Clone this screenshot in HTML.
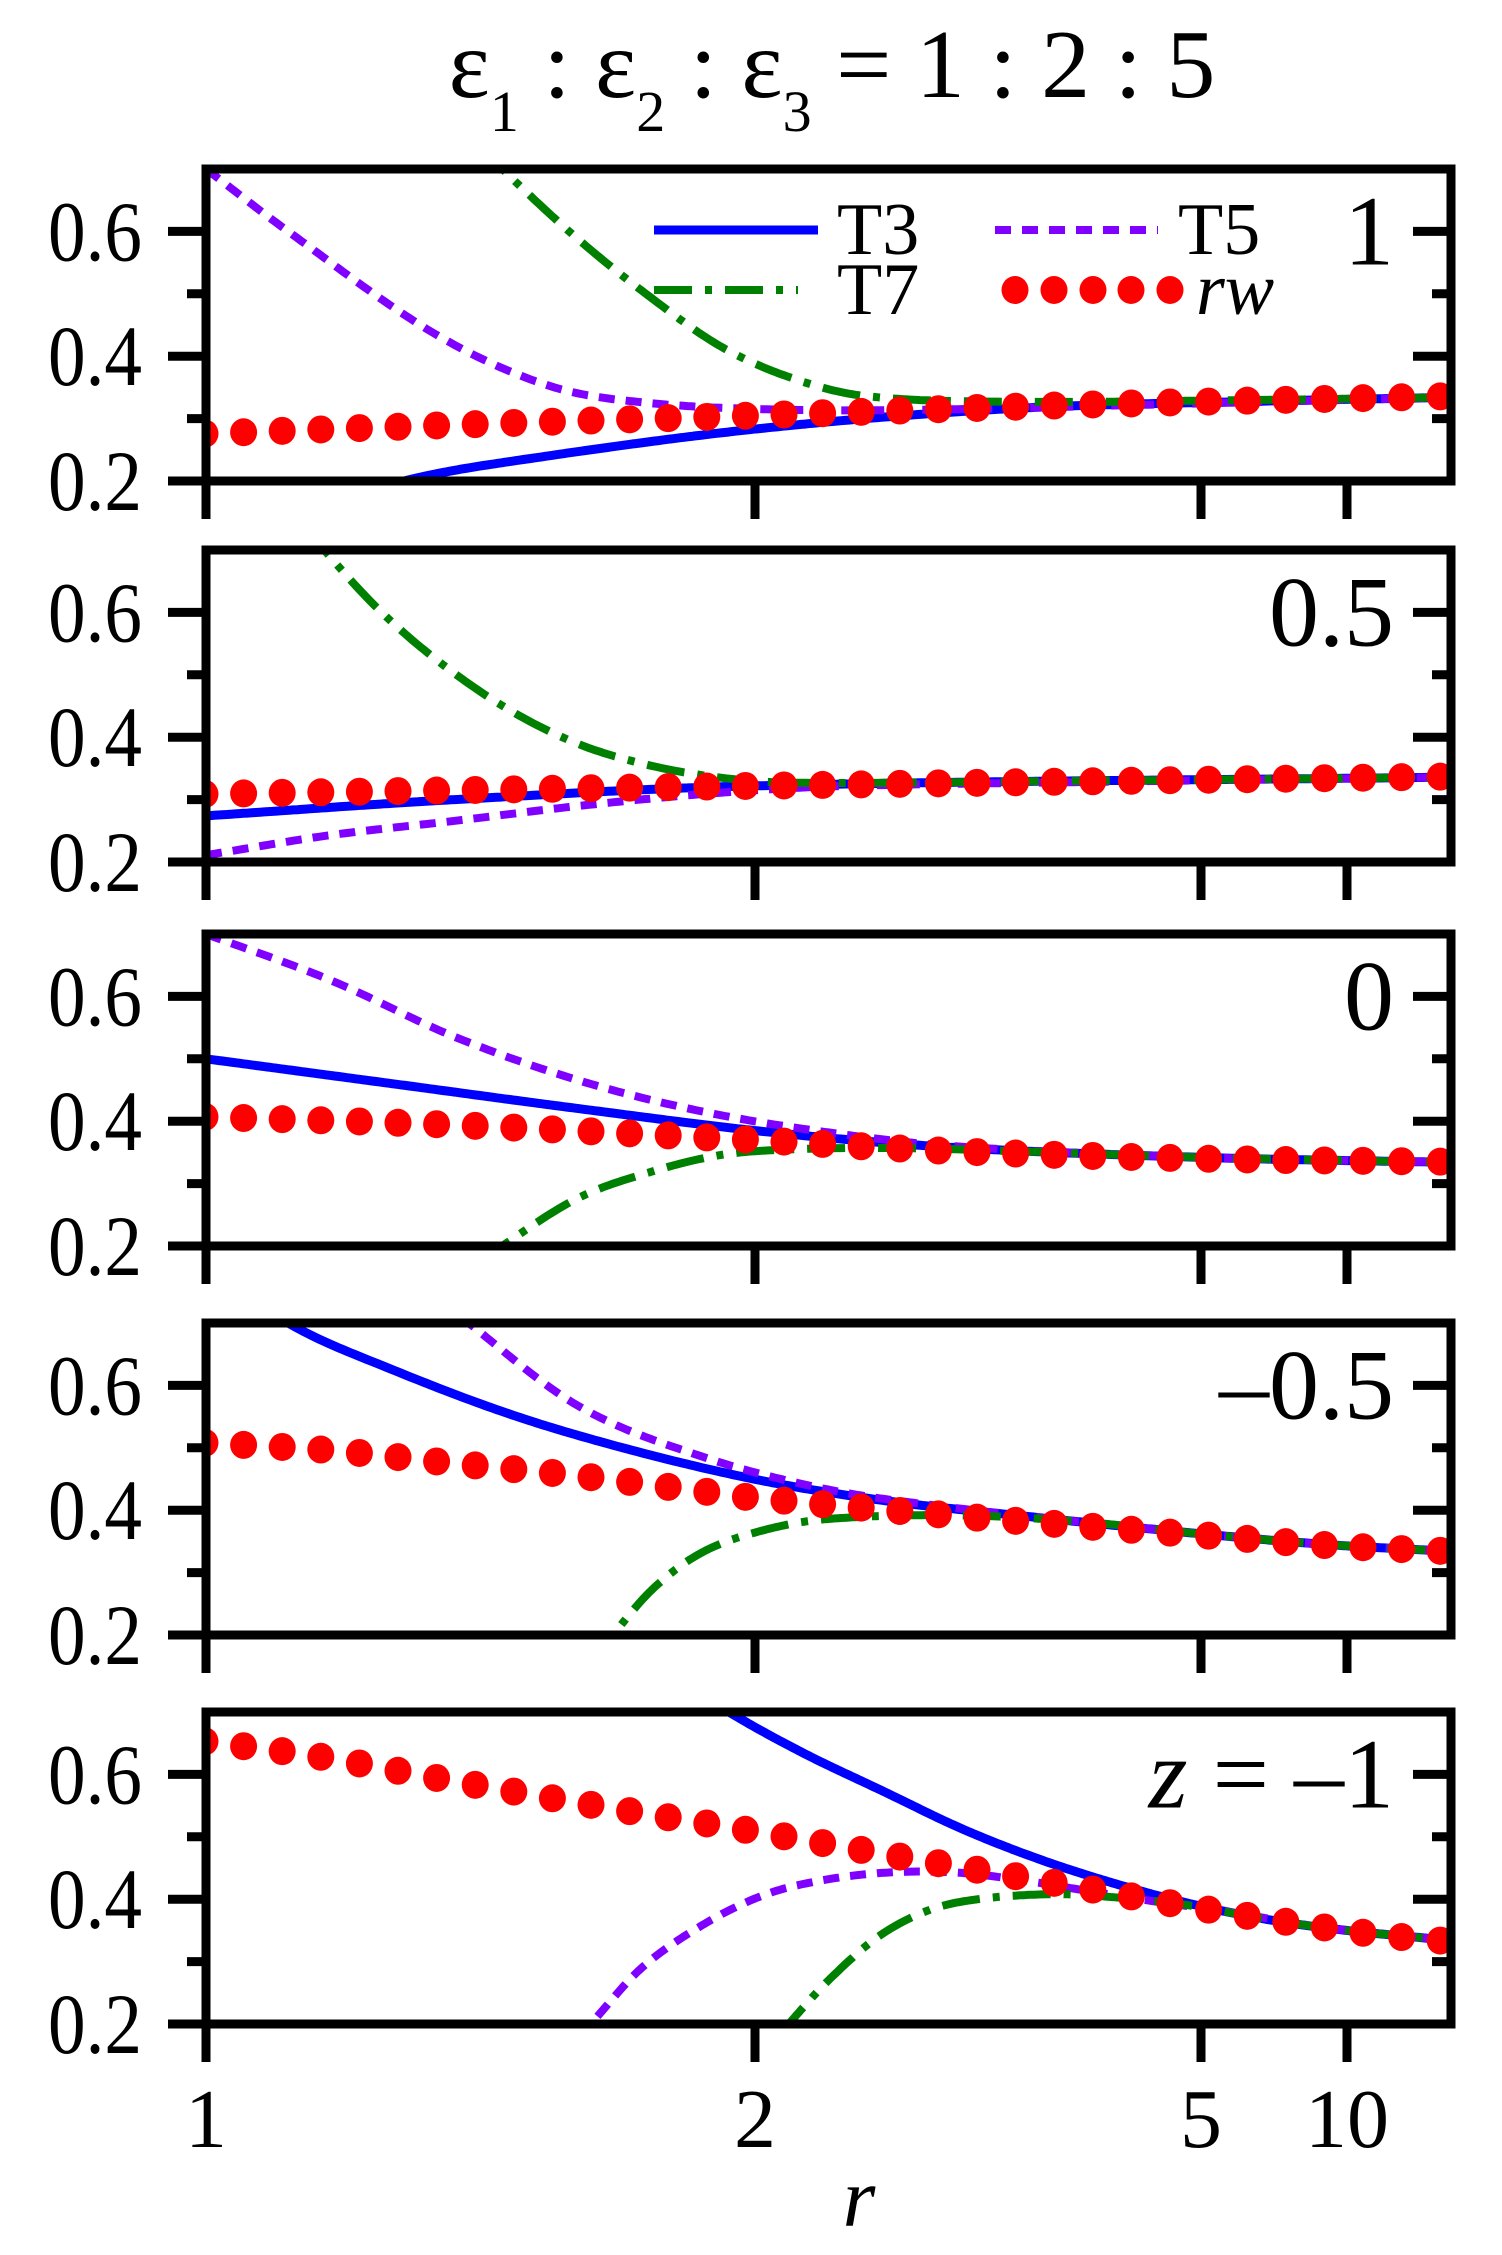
<!DOCTYPE html>
<html><head><meta charset="utf-8"><style>
html,body{margin:0;padding:0;background:#fff;}
svg{display:block;}
svg text{font-family:"Liberation Serif","Times New Roman",Times,serif;fill:#000;}
</style></head><body>
<svg id="s" width="1502" height="2255" viewBox="0 0 1502 2255" xmlns="http://www.w3.org/2000/svg" font-family="Liberation Serif, Times New Roman, serif">
</svg>
<script>
const NS="http://www.w3.org/2000/svg";
const s=document.getElementById('s');
function el(tag,attrs,txt){const e=document.createElementNS(NS,tag);for(const k in attrs)e.setAttribute(k,attrs[k]);if(txt!==undefined)e.textContent=txt;s.appendChild(e);return e;}
const L=206,R=1451,H=312,tops=[169,550,934,1323,1712];
const X=t=>L+(R-L)*t;
function interp(pts,t){
  if(t<=pts[0][0])return pts[0][1];
  for(let i=0;i<pts.length-1;i++){
    const a=pts[i],b=pts[i+1];
    if(t<=b[0]){
      const p0=pts[Math.max(0,i-1)],p3=pts[Math.min(pts.length-1,i+2)];
      const u=(t-a[0])/(b[0]-a[0]);
      const m1=(b[1]-p0[1])/(b[0]-p0[0]||1)*(b[0]-a[0]);
      const m2=(p3[1]-a[1])/(p3[0]-a[0]||1)*(b[0]-a[0]);
      const u2=u*u,u3=u2*u;
      return (2*u3-3*u2+1)*a[1]+(u3-2*u2+u)*m1+(-2*u3+3*u2)*b[1]+(u3-u2)*m2;
    }
  }
  return pts[pts.length-1][1];
}
const data=[
 {rw:[[0,0.276],[0.2,0.29],[0.44,0.305],[0.7,0.322],[1,0.336]],
  T3:[[0.12,0.17],[0.159,0.2],[0.24,0.23],[0.44,0.283],[0.646,0.316],[0.85,0.328],[1,0.334]],
  T5:[[0,0.7],[0.066,0.6],[0.182,0.438],[0.275,0.353],[0.356,0.325],[0.472,0.314],[0.6,0.315],[0.75,0.322],[1,0.334]],
  T7:[[0.22,0.74],[0.238,0.7],[0.298,0.589],[0.356,0.496],[0.414,0.415],[0.472,0.364],[0.53,0.336],[0.646,0.327],[0.85,0.33],[1,0.334]],
  lab:"1"},
 {rw:[[0,0.309],[0.44,0.322],[1,0.337]],
  T3:[[0,0.274],[0.2,0.3],[0.44,0.322],[1,0.336]],
  T5:[[0,0.211],[0.1,0.243],[0.2,0.266],[0.3,0.29],[0.4,0.309],[0.5,0.321],[0.7,0.328],[1,0.336]],
  T7:[[0.08,0.74],[0.095,0.7],[0.136,0.61],[0.182,0.529],[0.24,0.448],[0.298,0.39],[0.356,0.355],[0.414,0.335],[0.472,0.327],[0.7,0.33],[1,0.336]],
  lab:"0.5"},
 {rw:[[0,0.407],[0.2,0.394],[0.44,0.37],[0.6,0.352],[0.8,0.34],[1,0.335]],
  T3:[[0,0.5],[0.15,0.46],[0.3,0.42],[0.45,0.383],[0.6,0.358],[0.8,0.342],[1,0.334]],
  T5:[[0,0.7],[0.1,0.626],[0.2,0.535],[0.3,0.465],[0.4,0.415],[0.5,0.382],[0.6,0.36],[0.8,0.342],[1,0.334]],
  T7:[[0.22,0.17],[0.238,0.2],[0.298,0.276],[0.356,0.318],[0.414,0.346],[0.472,0.355],[0.55,0.357],[0.65,0.352],[0.8,0.342],[1,0.334]],
  lab:"0"},
 {rw:[[0,0.508],[0.1,0.496],[0.2,0.475],[0.3,0.455],[0.4,0.43],[0.44,0.42],[0.55,0.4],[0.65,0.383],[0.8,0.36],[0.9,0.344],[1,0.334]],
  T3:[[0.05,0.74],[0.066,0.7],[0.15,0.625],[0.25,0.55],[0.35,0.492],[0.45,0.446],[0.55,0.414],[0.65,0.392],[0.8,0.362],[0.9,0.345],[1,0.334]],
  T5:[[0.19,0.74],[0.211,0.7],[0.3,0.566],[0.4,0.485],[0.5,0.433],[0.6,0.404],[0.7,0.382],[0.8,0.362],[0.9,0.345],[1,0.334]],
  T7:[[0.31,0.15],[0.327,0.2],[0.36,0.276],[0.4,0.334],[0.45,0.369],[0.5,0.386],[0.6,0.392],[0.7,0.382],[0.8,0.362],[0.9,0.345],[1,0.334]],
  lab:"\u20130.5"},
 {rw:[[0,0.653],[0.093,0.628],[0.186,0.594],[0.31,0.551],[0.434,0.511],[0.558,0.468],[0.682,0.426],[0.806,0.383],[0.93,0.346],[1,0.332]],
  T3:[[0.40,0.73],[0.42,0.7],[0.48,0.634],[0.545,0.572],[0.607,0.513],[0.668,0.465],[0.73,0.425],[0.79,0.393],[0.854,0.367],[0.916,0.35],[1,0.334]],
  T5:[[0.30,0.18],[0.309,0.2],[0.35,0.29],[0.4,0.36],[0.45,0.408],[0.5,0.432],[0.55,0.443],[0.6,0.443],[0.65,0.432],[0.7,0.416],[0.76,0.397],[0.82,0.38],[0.9,0.354],[1,0.334]],
  T7:[[0.46,0.18],[0.468,0.2],[0.5,0.27],[0.54,0.34],[0.58,0.382],[0.62,0.4],[0.68,0.408],[0.73,0.403],[0.79,0.39],[0.854,0.367],[0.916,0.35],[1,0.334]],
  lab:null}
];
function path(pts,Y){
  const t0=pts[0][0],t1=pts[pts.length-1][0];let d='';
  for(let i=0;i<=300;i++){const t=t0+(t1-t0)*i/300;d+=(i?'L':'M')+X(t).toFixed(1)+' '+Y(interp(pts,t)).toFixed(1);}
  return d;
}
const defs=el('defs',{});
const BW=9;
data.forEach((p,k)=>{
  const top=tops[k],bot=top+H;
  const Y=v=>top+H*(0.7-v)/0.5;
  const cp=document.createElementNS(NS,'clipPath');cp.setAttribute('id','c'+k);
  const r=document.createElementNS(NS,'rect');r.setAttribute('x',L);r.setAttribute('y',top);r.setAttribute('width',R-L);r.setAttribute('height',H);
  cp.appendChild(r);defs.appendChild(cp);
  const g=el('g',{'clip-path':'url(#c'+k+')'});
  const add=(d,a)=>{const e=document.createElementNS(NS,'path');e.setAttribute('d',d);e.setAttribute('fill','none');for(const q in a)e.setAttribute(q,a[q]);g.appendChild(e);};
  add(path(p.T3,Y),{stroke:'#0000ff','stroke-width':9});
  add(path(p.T5,Y),{stroke:'#8000ff','stroke-width':8,'stroke-dasharray':'16 11'});
  add(path(p.T7,Y),{stroke:'#008000','stroke-width':8,'stroke-dasharray':'38 13 7 13'});
  for(let i=0;i<33;i++){const x=205+38.6*i;const t=(x-L)/(R-L);
    const c=document.createElementNS(NS,'ellipse');c.setAttribute('cx',x);c.setAttribute('cy',Y(interp(p.rw,Math.max(0,Math.min(1,t)))));c.setAttribute('rx',13.5);c.setAttribute('ry',14);c.setAttribute('fill','#ff0000');g.appendChild(c);}
  el('rect',{x:L,y:top,width:R-L,height:H,fill:'none',stroke:'#000','stroke-width':BW});
  [0.2,0.3,0.4,0.5,0.6].forEach(v=>{const y=Y(v);const maj=(v==0.2||v==0.4||v==0.6);
    el('line',{x1:L-(maj?38:19),y1:y,x2:L,y2:y,stroke:'#000','stroke-width':BW});
    el('line',{x1:R-(maj?38:19),y1:y,x2:R,y2:y,stroke:'#000','stroke-width':BW});
    if(maj)el('text',{x:142,y:y+29,'font-size':86,'text-anchor':'end',textLength:94,lengthAdjust:'spacingAndGlyphs'},v.toFixed(1));
  });
  [206,755,1201,1347].forEach(x=>el('line',{x1:x,y1:bot,x2:x,y2:bot+38,stroke:'#000','stroke-width':BW}));
  if(p.lab!==null)el('text',{x:1394,y:Y(0.6)+33,'font-size':100,'text-anchor':'end'},p.lab);
});
const t5=el('text',{x:1394,y:tops[4]+H*0.2+33,'font-size':100,'text-anchor':'end'});
t5.innerHTML='<tspan font-style="italic">z</tspan> = \u20131';
el('line',{x1:654,y1:230,x2:818,y2:230,stroke:'#0000ff','stroke-width':9});
el('line',{x1:995,y1:230,x2:1158,y2:230,stroke:'#8000ff','stroke-width':8,'stroke-dasharray':'16 11'});
el('line',{x1:654,y1:290,x2:798,y2:290,stroke:'#008000','stroke-width':8,'stroke-dasharray':'38 13 7 13'});
[1015,1054,1093,1131,1170].forEach(x=>el('ellipse',{cx:x,cy:290,rx:13.5,ry:14,fill:'#ff0000'}));
el('text',{x:837,y:254,'font-size':74},'T3');
el('text',{x:1178,y:254,'font-size':74},'T5');
el('text',{x:837,y:314,'font-size':74},'T7');
el('text',{x:1196,y:314,'font-size':74,'font-style':'italic'},'rw');
[[206,'1'],[755,'2'],[1201,'5'],[1347,'10']].forEach(a=>el('text',{x:a[0],y:2147,'font-size':84,'text-anchor':'middle'},a[1]));
el('text',{x:859,y:2226,'font-size':84,'font-style':'italic','text-anchor':'middle'},'r');
const tt=el('text',{x:832,y:97,'font-size':98,'text-anchor':'middle'});
tt.innerHTML='ε<tspan font-size="58" dy="34">1</tspan><tspan dy="-34"> : ε</tspan><tspan font-size="58" dy="34">2</tspan><tspan dy="-34"> : ε</tspan><tspan font-size="58" dy="34">3</tspan><tspan dy="-34"> = 1 : 2 : 5</tspan>';
</script>
</body></html>
